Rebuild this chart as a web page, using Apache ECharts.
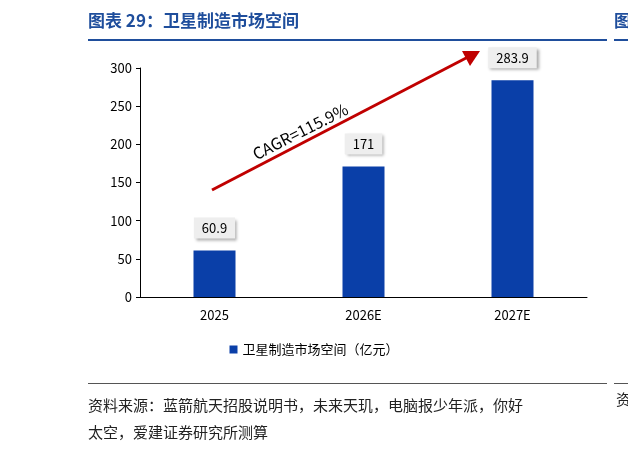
<!DOCTYPE html><html><head><meta charset="utf-8"><script src="https://cdn.jsdelivr.net/npm/echarts@6/dist/echarts.min.js"></script>
<style>html,body{margin:0;padding:0;background:#fff}#c{width:628px;height:451px}</style></head><body><div id="c"></div><script>
const categories=['2025','2026E','2027E'];
const values=[60.9,171,283.9];
const labels=['60.9','171','283.9'];
const seriesName='卫星制造市场空间（亿元）';
const chart=echarts.init(document.getElementById('c'));
const F='"Noto Sans CJK SC","Noto Sans",sans-serif';
chart.setOption({
animation:false,
grid:{left:140,right:41,top:68,bottom:154},
xAxis:{type:'category',data:categories,axisTick:{show:false},axisLine:{lineStyle:{color:'#000'}},axisLabel:{color:'#000',fontSize:13,margin:12,fontFamily:F}},
yAxis:{type:'value',min:0,max:300,interval:50,splitLine:{show:false},axisLine:{show:true,lineStyle:{color:'#000'}},axisTick:{show:true,length:4,inside:false},axisLabel:{color:'#000',fontSize:13,fontFamily:F}},
legend:{bottom:90,left:'center',itemWidth:8,itemHeight:8,icon:'rect',textStyle:{fontSize:13,color:'#000',fontFamily:F}},
series:[{type:'bar',name:seriesName,data:values,barWidth:42,itemStyle:{color:'#0a3fa8'},
label:{show:true,position:'top',distance:12,formatter:p=>labels[p.dataIndex],color:'#000',fontSize:13,fontFamily:F,backgroundColor:'#eeeeee',padding:[4,8],shadowColor:'rgba(0,0,0,0.35)',shadowBlur:3,shadowOffsetX:2,shadowOffsetY:2}}],
graphic:[
{type:'text',left:88,top:12,style:{text:'图表 29：卫星制造市场空间',fill:'#1f4e9c',font:'bold 17px '+F}},
{type:'rect',shape:{x:88,y:39,width:519,height:2},style:{fill:'#1f4e9c'}},
{type:'text',left:614,top:12,style:{text:'图',fill:'#1f4e9c',font:'bold 17px '+F}},
{type:'rect',shape:{x:614,y:39,width:14,height:2},style:{fill:'#1f4e9c'}},
{type:'line',shape:{x1:212,y1:190,x2:468,y2:57},style:{stroke:'#c00000',lineWidth:3}},
{type:'polygon',shape:{points:[[480,51],[462,51],[470,66]]},style:{fill:'#c00000'}},
{type:'text',x:250,y:148,rotation:0.47,style:{text:'CAGR=115.9%',fill:'#000',font:'16px '+F}},
{type:'rect',shape:{x:88,y:383,width:519,height:1},style:{fill:'#555'}},
{type:'rect',shape:{x:614,y:383,width:14,height:1},style:{fill:'#555'}},
{type:'text',left:88,top:392,style:{text:'资料来源：蓝箭航天招股说明书，未来天玑，电脑报少年派，你好\n太空，爱建证券研究所测算',fill:'#222',font:'15px '+F,lineHeight:27}},
{type:'text',left:616,top:392,style:{text:'资',fill:'#222',font:'15px '+F}}
]});
</script></body></html>
